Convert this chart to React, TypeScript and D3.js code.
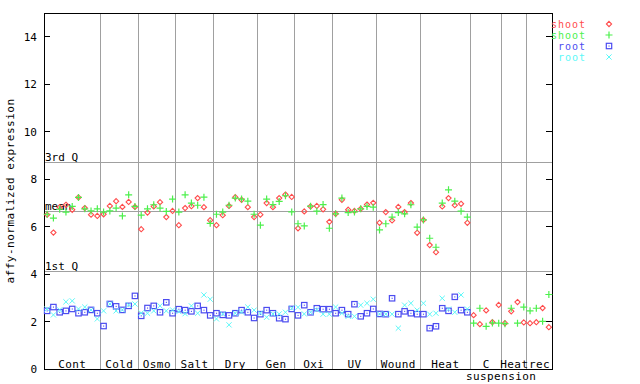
import * as d3 from "d3";

// shared x index for every sample; shoot runs through 80, root stops at 67
const shootA = [
  6.5, 5.75, 6.82, 6.92, 6.71, 7.23, 6.78, 6.5, 6.45,
  6.52, 6.87, 7.07, 6.83, 7.04, 6.83,
  5.89, 6.59, 6.85, 7.03, 6.4, 6.66,
  6.06, 6.78, 6.86, 7.2, 6.82, 6.27,
  6.06, 6.48, 6.87, 7.24, 7.13, 6.82, 6.4,
  6.5, 6.99, 6.82, 7.2, 7.35, 7.25,
  5.93, 6.64, 6.85, 6.87, 6.73, 6.2,
  6.54, 7.13, 6.71, 6.66, 6.75, 6.93, 7.0,
  6.16, 6.61, 6.26, 6.83, 6.61, 6.99, 5.74,
  6.28, 5.22, 4.92, 6.85, 7.2, 6.9, 6.96, 6.16,
  2.27, 1.89, 2.47, 1.97, 2.7,
  1.93, 2.43, 2.82, 1.96,
  1.93, 1.97, 2.57, 1.76,
];
const shootB = [
  6.52, 6.36, 6.73, 6.61, 6.85, 7.23, 6.75, 6.66, 6.75,
  6.61, 6.66, 6.78, 6.45, 7.34, 6.85,
  6.48, 6.75, 6.92, 6.78, 6.64, 7.16,
  6.61, 7.34, 6.99, 6.9, 7.24, 6.14,
  6.52, 6.61, 6.9, 7.2, 7.16, 7.07, 6.52,
  6.06, 7.16, 6.93, 7.06, 7.3, 6.62,
  6.12, 6.03, 6.86, 6.65, 6.93, 5.93,
  6.54, 7.2, 6.59, 6.62, 6.75, 6.85, 6.82,
  5.86, 6.12, 6.4, 6.59, 6.54, 6.92, 5.98,
  6.28, 5.51, 5.13, 6.99, 7.55, 7.07, 6.65, 6.4,
  1.93, 2.56, 1.8, 1.94, 1.93,
  1.91, 2.56, 1.93, 2.61,
  2.45, 2.56, 2.01, 3.14,
];
const rootA = [
  2.45, 2.61, 2.39, 2.45, 2.53, 2.35, 2.39, 2.49, 2.35,
  1.81, 2.74, 2.64, 2.49, 2.66, 3.08,
  2.24, 2.57, 2.66, 2.39, 2.81, 2.35,
  2.52, 2.48, 2.43, 2.66, 2.48, 2.26,
  2.35, 2.28, 2.26, 2.35, 2.48, 2.39, 2.15,
  2.31, 2.48, 2.35, 2.14, 2.1, 2.53,
  2.26, 2.69, 2.39, 2.56, 2.52, 2.52,
  2.35, 2.48, 2.31, 2.73, 2.22, 2.35, 2.53,
  2.32, 2.31, 2.98, 2.31, 2.43, 2.35, 2.31,
  2.31, 1.72, 1.8, 2.56, 2.45, 3.04, 2.48, 2.39,
];
const rootB = [
  2.53, 2.28, 2.49, 2.83, 2.87, 2.53, 2.61, 2.49, 2.11,
  2.45, 2.74, 2.45, 2.49, 2.7, 2.74,
  2.36, 2.35, 2.45, 2.66, 2.45, 2.49,
  2.42, 2.33, 2.66, 2.35, 3.12, 2.94,
  2.11, 2.32, 1.86, 2.35, 2.4, 2.61, 2.48,
  2.36, 2.18, 2.32, 2.32, 2.39, 2.56,
  2.6, 2.32, 2.39, 2.49, 2.31, 2.31,
  2.61, 2.35, 2.22, 2.22, 2.69, 2.77, 2.94,
  2.32, 2.31, 2.31, 1.72, 2.69, 2.77, 2.48,
  2.77, 2.31, 2.35, 2.98, 2.52, 2.39, 3.12, 2.53,
];

const groupNames = ["Cont", "Cold", "Osmo", "Salt", "Dry", "Gen", "Oxi", "UV", "Wound", "Heat", "C\nsuspension", "Heat", "rec"];
const groupSizes = [9, 6, 6, 6, 7, 6, 6, 7, 7, 8, 5, 4, 4];

const quartiles = [
  { label: "3rd Q", value: 8.68 },
  { label: "mean", value: 6.62 },
  { label: "1st Q", value: 4.09 },
];
const yTicks = [0, 2, 4, 6, 8, 10, 12, 14];

const RED = "#ff4c4c";
const GREEN = "#4cf04c";
const BLUE = "#4c4cf0";
const CYAN = "#5cf8f8";

const legend = [
  { label: "shoot", color: RED, shape: "diamond" },
  { label: "shoot", color: GREEN, shape: "plus" },
  { label: "root", color: BLUE, shape: "square" },
  { label: "root", color: CYAN, shape: "cross" },
];

const W = 640;
const H = 384;
const plot = { left: 44, right: 552, top: 13, bottom: 369 };
const font = "'DejaVu Sans Mono', monospace";

const x = d3.scaleLinear().domain([-0.5, 80.5]).range([plot.left, plot.right]);
const y = d3.scaleLinear().domain([0, 15]).range([plot.bottom, plot.top]);

function Marker({ shape, cx, cy, color }) {
  if (shape === "diamond")
    return <path d={`M${cx},${cy - 2.6}L${cx + 2.6},${cy}L${cx},${cy + 2.6}L${cx - 2.6},${cy}Z`} fill="none" stroke={color} strokeWidth={1.1} />;
  if (shape === "plus")
    return <path d={`M${cx - 3.5},${cy}H${cx + 3.5}M${cx},${cy - 3.5}V${cy + 3.5}`} stroke={color} strokeWidth={1.2} />;
  if (shape === "square")
    return (
      <g>
        <rect x={cx - 2.7} y={cy - 2.7} width={5.4} height={5.4} fill="none" stroke={color} strokeWidth={1.2} />
        <rect x={cx - 0.5} y={cy - 0.5} width={1.1} height={1.1} fill={color} />
      </g>
    );
  return <path d={`M${cx - 2.6},${cy - 2.6}L${cx + 2.6},${cy + 2.6}M${cx - 2.6},${cy + 2.6}L${cx + 2.6},${cy - 2.6}`} stroke={color} strokeWidth={1} />;
}

export default function App() {
  // first index of each group
  const bounds: number[] = [];
  let acc = 0;
  groupSizes.forEach((n) => {
    bounds.push(acc);
    acc += n;
  });

  const series = [
    { data: shootA, ...legend[0] },
    { data: shootB, ...legend[1] },
    { data: rootA, ...legend[2] },
    { data: rootB, ...legend[3] },
  ];

  return (
    <svg width={W} height={H} style={{ position: "absolute", left: 0, top: 0, background: "#fff" }} fontFamily={font} fontSize={11}>
      <rect width={W} height={H} fill="#fff" />

      {/* group separators */}
      {bounds.slice(1).map((b, i) => (
        <line key={i} x1={x(b - 0.5)} x2={x(b - 0.5)} y1={plot.top} y2={plot.bottom} stroke="#a0a0a0" shapeRendering="crispEdges" />
      ))}

      {/* quartile lines */}
      {quartiles.map((q) => (
        <g key={q.label}>
          <line x1={plot.left} x2={plot.right} y1={y(q.value)} y2={y(q.value)} stroke="#a0a0a0" shapeRendering="crispEdges" />
          <text x={plot.left + 1} y={y(q.value) - 1.5} fill="#000">{q.label}</text>
        </g>
      ))}

      {/* frame */}
      <rect x={plot.left} y={plot.top} width={plot.right - plot.left} height={plot.bottom - plot.top} fill="none" stroke="#000" shapeRendering="crispEdges" />

      {/* y ticks */}
      {yTicks.map((t) => (
        <g key={t}>
          <line x1={plot.left} x2={plot.left + 6} y1={y(t)} y2={y(t)} stroke="#000" shapeRendering="crispEdges" />
          <line x1={plot.right - 6} x2={plot.right} y1={y(t)} y2={y(t)} stroke="#000" shapeRendering="crispEdges" />
          <text x={37} y={y(t) + 4} textAnchor="end" fill="#000">{t}</text>
        </g>
      ))}

      <text transform={`translate(14,${(plot.top + plot.bottom) / 2}) rotate(-90)`} textAnchor="middle" fill="#000" letterSpacing={0.5}>
        affy-normalized expression
      </text>

      {/* group labels */}
      {groupNames.map((name, i) => {
        const cx = x(bounds[i] + (groupSizes[i] - 1) / 2);
        const lines = name.split("\n");
        return (
          <g key={i}>
            {lines.map((ln, k) => (
              <text key={k} x={cx + k * 15} y={plot.bottom - 1 + k * 12} textAnchor="middle" fill="#000" letterSpacing={0.4}>
                {ln}
              </text>
            ))}
          </g>
        );
      })}

      {/* points */}
      {series.map((s, si) => (
        <g key={si}>
          {s.data.map((v, i) => (
            <Marker key={i} shape={s.shape} cx={x(i)} cy={y(v)} color={s.color} />
          ))}
        </g>
      ))}

      {/* legend */}
      {legend.map((l, i) => (
        <g key={i}>
          <text x={586} y={27.5 + i * 11} textAnchor="end" fill={l.color} fontSize={10} letterSpacing={1}>{l.label}</text>
          <Marker shape={l.shape} cx={609} cy={24 + i * 11} color={l.color} />
        </g>
      ))}
    </svg>
  );
}
